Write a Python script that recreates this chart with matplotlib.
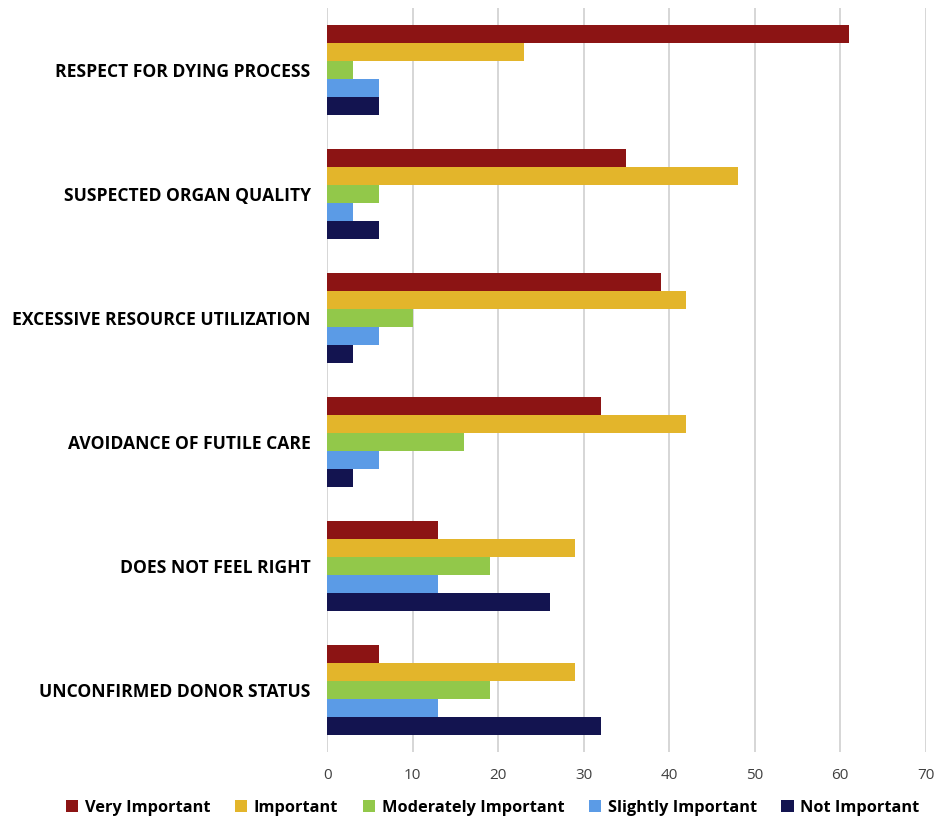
import numpy as np
import matplotlib.pyplot as plt

# 데이터
categories = ['RESPECT FOR DYING PROCESS', 'SUSPECTED ORGAN QUALITY', 'EXCESSIVE RESOURCE UTILIZATION',
              'AVOIDANCE OF FUTILE CARE', 'DOES NOT FEEL RIGHT', 'UNCONFIRMED DONOR STATUS']
series_names = ['Very Important', 'Important', 'Moderately Important', 'Slightly Important', 'Not Important']
very_important = [61, 35, 39, 32, 13, 6]
important = [23, 48, 42, 42, 29, 29]
moderately_important = [3, 6, 10, 16, 19, 19]
slightly_important = [6, 3, 6, 6, 13, 13]
not_important = [6, 6, 3, 3, 26, 32]

colors = ['#8C1414', '#E3B52B', '#92C84A', '#5B9BE6', '#131450']
values = [very_important, important, moderately_important, slightly_important, not_important]

plt.rcParams['font.family'] = ['Open Sans', 'DejaVu Sans']

fig = plt.figure(figsize=(9.35, 8.26), dpi=100)
ax = fig.add_axes([0.35, 0.09, 0.64, 0.90])

y = np.arange(len(categories))
h = 0.145
for i, (name, vals, c) in enumerate(zip(series_names, values, colors)):
    ax.barh(y + (i - 2) * h, vals, height=h, color=c, label=name, zorder=3)

ax.set_ylim(len(categories) - 0.5, -0.5)
ax.set_xlim(0, 70)
ax.set_xticks(range(0, 71, 10))
ax.set_yticks(y)
ax.set_yticklabels(categories, fontsize=12.6, fontweight='bold')
ax.tick_params(axis='y', length=0, pad=12)
ax.tick_params(axis='x', length=0, labelsize=11, labelcolor='#404040', pad=12)
ax.grid(axis='x', color='#d0d0d0', linewidth=1.2, zorder=0)
for s in ax.spines.values():
    s.set_visible(False)

fig.legend(loc='lower center', ncol=5, bbox_to_anchor=(0.527, -0.006), frameon=False,
           prop={'weight': 'bold', 'size': 11.8}, handlelength=0.75, handleheight=0.75,
           handletextpad=0.4, columnspacing=1.5)

fig.savefig('out.png', dpi=100)
